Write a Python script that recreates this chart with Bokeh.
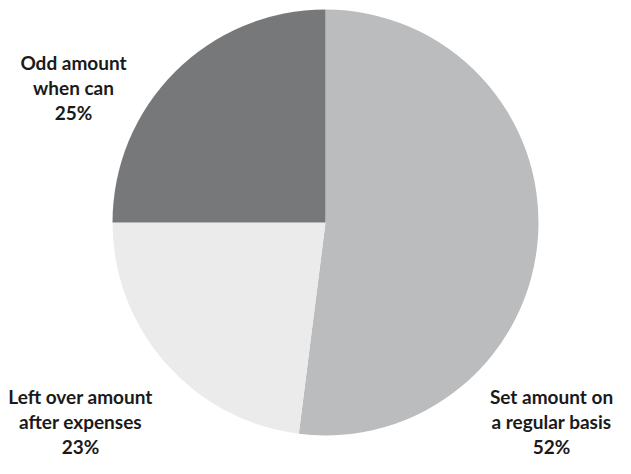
import math
from bokeh.plotting import figure
from bokeh.models import Range1d, ColumnDataSource
from bokeh.core.properties import value
from bokeh.embed import file_html
from bokeh.resources import INLINE

# Data
categories = ["Set amount on\na regular basis", "Left over amount\nafter expenses", "Odd amount\nwhen can"]
percents = [52, 23, 25]
colors = ["#bbbcbe", "#ebebeb", "#77787a"]

# Layout (figure pixel coordinates, y up)
W, H = 615, 458
cx, cy, r = 325, 236, 213
label_x = [551, 80, 73]
label_y = [37, 37, 371]

total = sum(percents)
starts, ends = [], []
a = math.pi / 2
for pv in percents:
    starts.append(a)
    a -= 2 * math.pi * pv / total
    ends.append(a)

src = ColumnDataSource(dict(start=starts, end=ends, color=colors))

p = figure(width=W, height=H, output_backend="svg", toolbar_location=None,
           x_range=Range1d(0, W), y_range=Range1d(0, H), min_border=0)
p.axis.visible = False
p.grid.visible = False
p.outline_line_color = None
p.background_fill_color = "white"
p.border_fill_color = "white"

p.wedge(x=cx, y=cy, radius=r, start_angle="start", end_angle="end", direction="clock",
        fill_color="color", line_color=None, source=src)

texts = [f"{c}\n{v}%" for c, v in zip(categories, percents)]
p.text(x=label_x, y=label_y, text=texts, text_align="center", text_baseline="middle",
       text_font=value("Lato"), text_font_style="bold", text_font_size="19px",
       text_line_height=1.08, text_color="#1a1a1a")

open("out.html", "w").write(file_html(p, INLINE))
